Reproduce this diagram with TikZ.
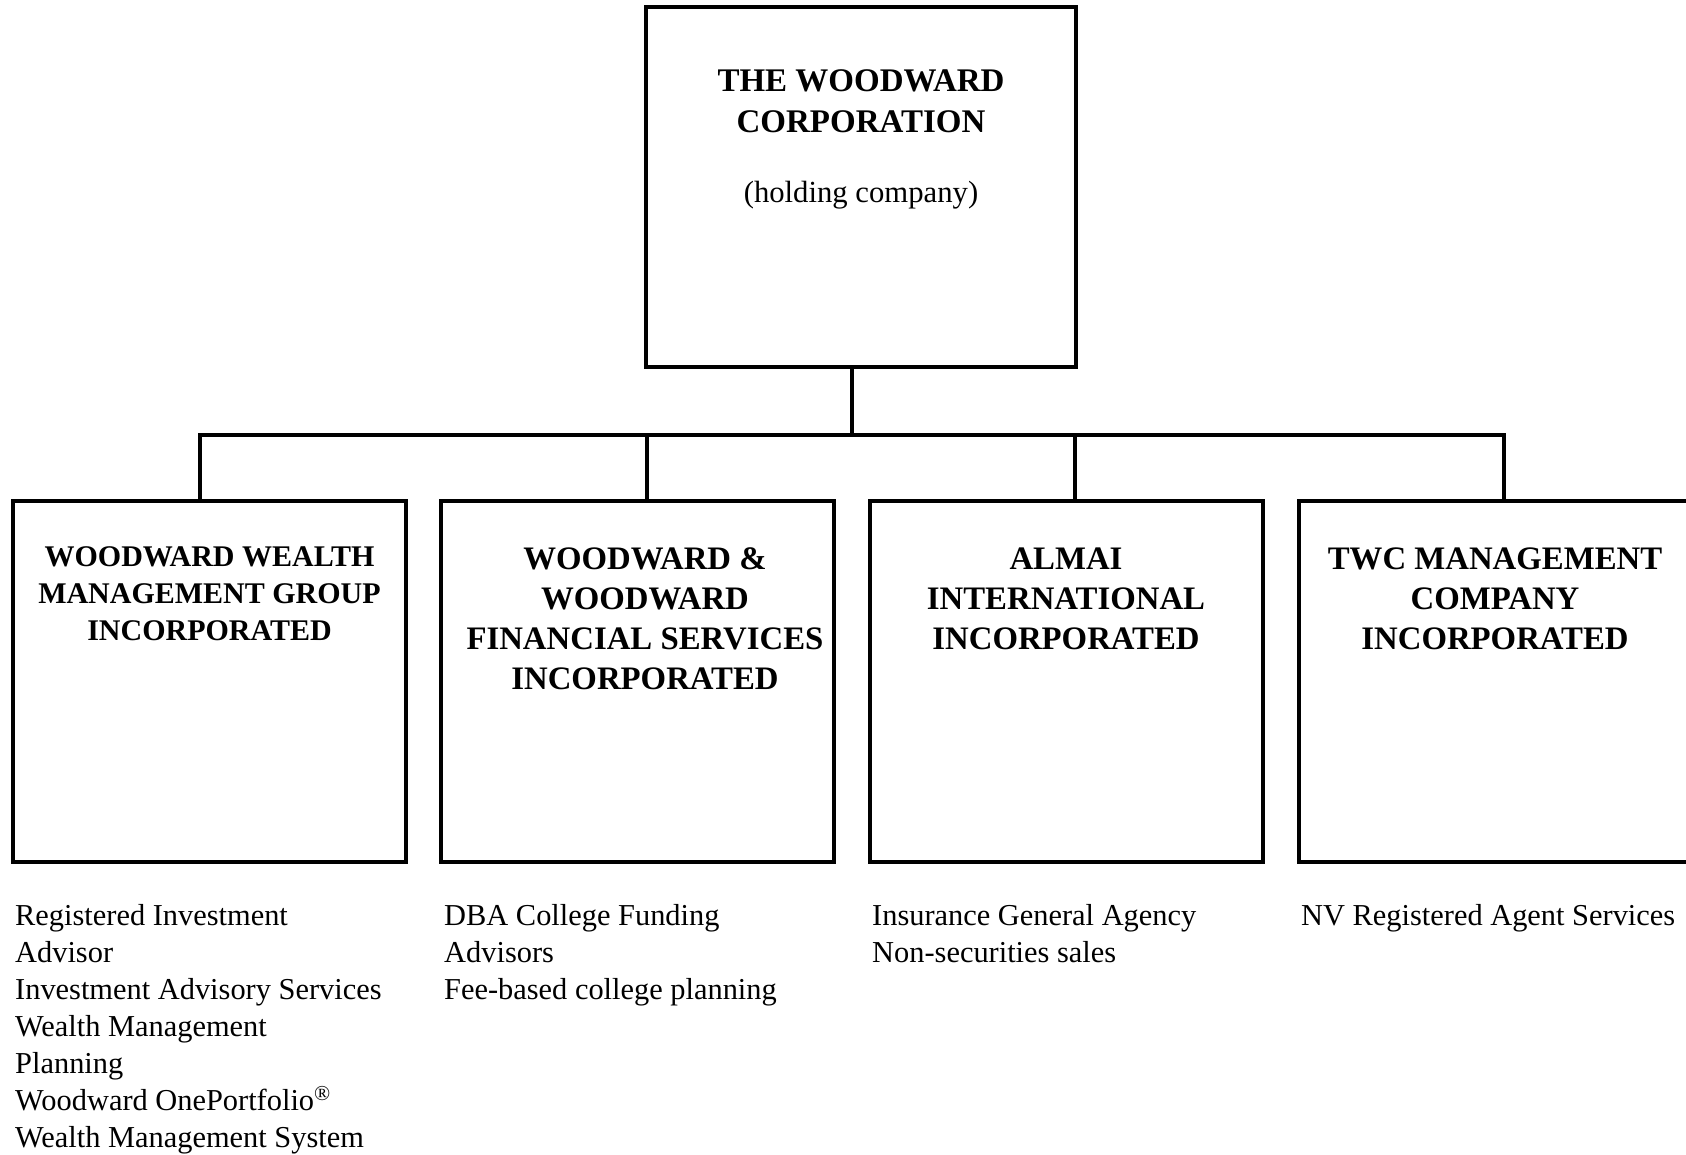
\documentclass[tikz,border=0pt]{standalone}
\usepackage{fontspec}
\setmainfont{Liberation Serif}
\begin{document}
\begin{tikzpicture}[x=1pt,y=-1pt,
  box/.style={draw, line width=4.5pt, rectangle, inner sep=0pt},
  conn/.style={line width=4.5pt, line join=miter},
  title/.style={font=\bfseries\fontsize{32.8}{40}\selectfont, align=center, anchor=base, inner sep=0pt},
  desc/.style={font=\fontsize{30.4}{37}\selectfont, align=left, anchor=base west, inner sep=0pt}]
\clip (0,0) rectangle (1686,1154);
\fill[white] (0,0) rectangle (1686,1154);
% boxes
\node[box, minimum width=430pt, minimum height=360pt] (top) at (861,187) {};
\node[box, minimum width=393pt, minimum height=361pt] (b1) at (209.5,681.5) {};
\node[box, minimum width=393pt, minimum height=361pt] (b2) at (637.5,681.5) {};
\node[box, minimum width=393pt, minimum height=361pt] (b3) at (1066.5,681.5) {};
\node[box, minimum width=393pt, minimum height=361pt] (b4) at (1495.5,681.5) {};
% connectors
\coordinate (bar) at (852,435);
\coordinate (s1) at (200,435);
\coordinate (s2) at (647,435);
\coordinate (s3) at (1075,435);
\coordinate (s4) at (1504,435);
\draw[conn] (top.south -| bar) -- (bar);
\draw[conn] (b1.north -| s1) -- (s1) -- (s4) -- (b4.north -| s4);
\draw[conn] (s2) -- (b2.north -| s2);
\draw[conn] (s3) -- (b3.north -| s3);
% titles (anchor base = baseline of last line)
\node[title, font=\bfseries\fontsize{33}{40.6}\selectfont] (t0) at (861,132.3) {THE WOODWARD\\CORPORATION};
\node[font=\fontsize{30.7}{37}\selectfont, anchor=base, inner sep=0pt] (h0) at (861,202.7) {(holding company)};
\node[title, font=\bfseries\fontsize{30}{36.7}\selectfont] (t1) at (209.5,640.1) {WOODWARD WEALTH\\MANAGEMENT GROUP\\INCORPORATED};
\node[title] (t2) at (645,689) {WOODWARD \&\\WOODWARD\\FINANCIAL SERVICES\\INCORPORATED};
\node[title] (t3) at (1066,649) {ALMAI\\INTERNATIONAL\\INCORPORATED};
\node[title] (t4) at (1495,649) {TWC MANAGEMENT\\COMPANY\\INCORPORATED};
% descriptions
\node[desc] (d1) at (15,1147) {Registered Investment\\Advisor\\Investment Advisory Services\\Wealth Management\\Planning\\Woodward OnePortfolio\textsuperscript{\textregistered}\\Wealth Management System};
\node[desc] (d2) at (444,999) {DBA College Funding\\Advisors\\Fee-based college planning};
\node[desc] (d3) at (872,962) {Insurance General Agency\\Non-securities sales};
\node[desc] (d4) at (1301,925) {NV Registered Agent Services};
\end{tikzpicture}
\end{document}
